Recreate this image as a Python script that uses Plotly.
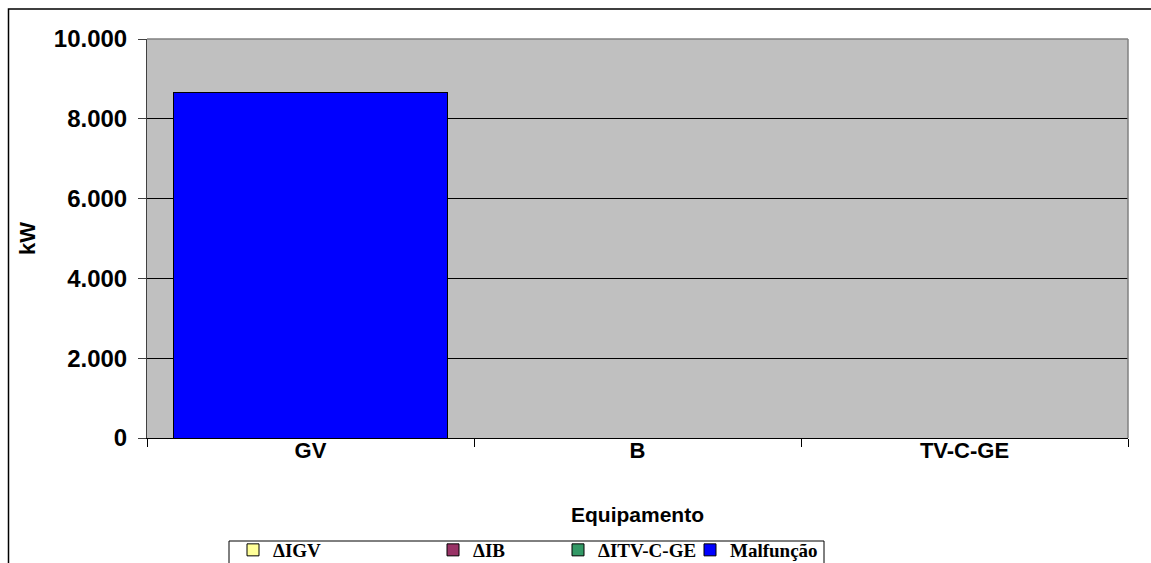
import plotly.graph_objects as go

# Equipment categories and per-series power values (kW)
equipamentos = ["GV", "B", "TV-C-GE"]
delta_igv = [0, 0, 0]
delta_ib = [0, 0, 0]
delta_itv = [0, 0, 0]
malfuncao = [8670, 0, 0]

series_names = ["ΔIGV", "ΔIB", "ΔITV-C-GE", "Malfunção"]
series_values = [delta_igv, delta_ib, delta_itv, malfuncao]
series_colors = ["#FFFF99", "#993366", "#339966", "#0000FF"]

y_ticks = [0, 2000, 4000, 6000, 8000, 10000]

W, H = 1151, 563
L, R, T, B = 147, 23, 39, 125
pw, ph = W - L - R, H - T - B


def px(x):
    return (x - L) / pw


def py(y):
    return (H - B - y) / ph


sans = "Liberation Sans, Arial, sans-serif"
serif = "Liberation Serif, Times New Roman, serif"

legend_ids = ["legend", "legend2", "legend3", "legend4"]
legend_x = [233, 433, 558, 690]

fig = go.Figure()
for name, vals, color, lid in zip(series_names, series_values, series_colors, legend_ids):
    fig.add_trace(go.Bar(
        x=equipamentos, y=vals, name=name, legend=lid,
        marker=dict(color=color, line=dict(color="black", width=1)),
    ))

legend_common = dict(
    orientation="h", yanchor="top", xanchor="left",
    bgcolor="rgba(0,0,0,0)", borderwidth=0,
    font=dict(family=serif, size=19, color="black", weight="bold"),
)
layout_legends = {}
for lid, lx in zip(legend_ids, legend_x):
    layout_legends[lid] = dict(legend_common, x=px(lx), y=py(531))

fig.update_layout(
    width=W, height=H,
    margin=dict(l=L, r=R, t=T, b=B, autoexpand=False),
    paper_bgcolor="white",
    plot_bgcolor="#C0C0C0",
    separators=",.",
    barmode="stack",
    bargap=0.165,
    showlegend=True,
    **layout_legends,
    xaxis=dict(
        type="category",
        tickson="boundaries",
        ticks="outside", ticklen=8, tickcolor="black",
        showgrid=False,
        showline=True, linecolor="black", linewidth=1,
        tickfont=dict(family=sans, size=22, color="black", weight="bold"),
        ticklabelstandoff=-7,
        title=dict(text="Equipamento", standoff=44,
                   font=dict(family=sans, size=21, color="black", weight="bold")),
        automargin=False,
    ),
    yaxis=dict(
        range=[0, 10000],
        tickvals=y_ticks,
        tickformat=",d",
        ticks="outside", ticklen=8, tickcolor="#404040",
        showgrid=True, gridcolor="black", gridwidth=1,
        zeroline=False,
        showline=True, linecolor="#404040", linewidth=1,
        tickfont=dict(family=sans, size=24, color="black", weight="bold"),
        ticklabelstandoff=6,
        title=dict(text="kW", standoff=12,
                   font=dict(family=sans, size=22, color="black", weight="bold")),
        automargin=False,
    ),
    shapes=[
        # outer chart frame
        dict(type="rect", xref="paper", yref="paper",
             x0=px(8.5), x1=px(1160), y0=py(9), y1=py(600),
             line=dict(color="black", width=1.5), fillcolor="rgba(0,0,0,0)", layer="below"),
        # plot area top/right border
        dict(type="line", xref="paper", yref="paper", x0=0, x1=1, y0=1, y1=1,
             line=dict(color="#808080", width=1.5)),
        dict(type="line", xref="paper", yref="paper", x0=1, x1=1, y0=0, y1=1,
             line=dict(color="#808080", width=1.5)),
        # legend box
        dict(type="rect", xref="paper", yref="paper",
             x0=px(229), x1=px(824), y0=py(541), y1=py(600),
             line=dict(color="black", width=1), fillcolor="rgba(0,0,0,0)"),
    ],
)

fig.write_html("out.html")
